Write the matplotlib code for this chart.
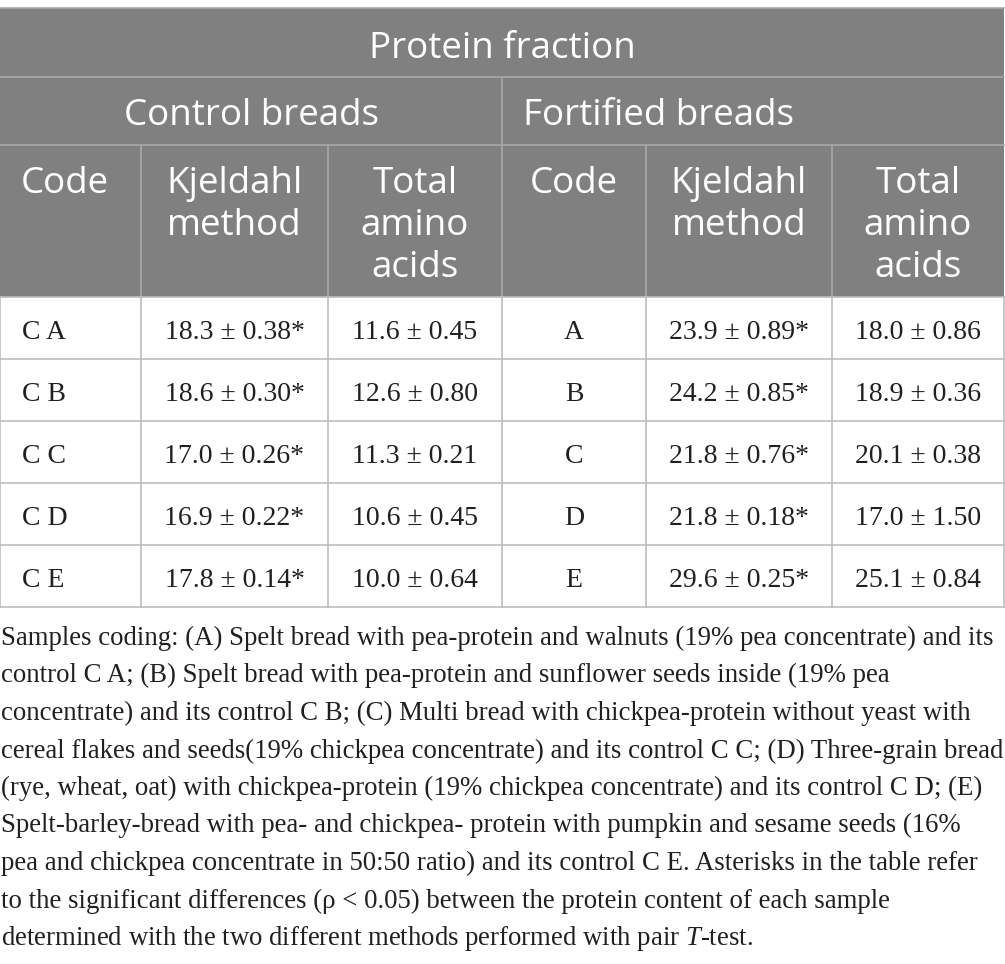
import matplotlib.pyplot as plt

plt.rcParams['mathtext.fontset'] = 'custom'
plt.rcParams['mathtext.rm'] = 'Liberation Serif'
plt.rcParams['mathtext.it'] = 'Liberation Serif:italic'

# data
ctrl_codes = ["C A", "C B", "C C", "C D", "C E"]
ctrl_kj_mean = [18.3, 18.6, 17.0, 16.9, 17.8]
ctrl_kj_sd = [0.38, 0.30, 0.26, 0.22, 0.14]
ctrl_aa_mean = [11.6, 12.6, 11.3, 10.6, 10.0]
ctrl_aa_sd = [0.45, 0.80, 0.21, 0.45, 0.64]

fort_codes = ["A", "B", "C", "D", "E"]
fort_kj_mean = [23.9, 24.2, 21.8, 21.8, 29.6]
fort_kj_sd = [0.89, 0.85, 0.76, 0.18, 0.25]
fort_aa_mean = [18.0, 18.9, 20.1, 17.0, 25.1]
fort_aa_sd = [0.86, 0.36, 0.38, 1.50, 0.84]

col_headers = ["Code", "Kjeldahl\nmethod", "Total\namino\nacids"]

footnote = [
    "Samples coding: (A) Spelt bread with pea-protein and walnuts (19% pea concentrate) and its",
    "control C A; (B) Spelt bread with pea-protein and sunflower seeds inside (19% pea",
    "concentrate) and its control C B; (C) Multi bread with chickpea-protein without yeast with",
    "cereal flakes and seeds(19% chickpea concentrate) and its control C C; (D) Three-grain bread",
    "(rye, wheat, oat) with chickpea-protein (19% chickpea concentrate) and its control C D; (E)",
    "Spelt-barley-bread with pea- and chickpea- protein with pumpkin and sesame seeds (16%",
    "pea and chickpea concentrate in 50:50 ratio) and its control C E. Asterisks in the table refer",
    "to the significant differences (\u03c1 < 0.05) between the protein content of each sample",
    "determined with the two different methods performed with pair $T$-test.",
]

W, H = 1005, 964
fig = plt.figure(figsize=(W / 100, H / 100), dpi=100)
ax = fig.add_axes([0, 0, 1, 1])
ax.set_xlim(0, W)
ax.set_ylim(H, 0)
ax.axis('off')

xs = [0, 141, 328, 502, 646, 832, 1004]
ys = [8, 77, 145, 297, 359, 421, 483, 545, 607]

head_bg = '#808080'
head_line = '#a8a8a8'
body_line = '#bdbdbd'
hfont = 'Open Sans'
bfont = 'Liberation Serif'
ink = '#231f20'

ax.add_patch(plt.Rectangle((0, ys[0]), xs[-1], ys[3] - ys[0], color=head_bg, lw=0))

# header lines
ax.plot([0, xs[-1]], [ys[0], ys[0]], color=head_line, lw=1.2)
for y in ys[1:3]:
    ax.plot([0, xs[-1]], [y, y], color=head_line, lw=1.2)
ax.plot([xs[3], xs[3]], [ys[1], ys[3]], color=head_line, lw=1.2)
for x in [xs[1], xs[2], xs[4], xs[5]]:
    ax.plot([x, x], [ys[2], ys[3]], color=head_line, lw=1.2)

# body lines
for y in ys[3:]:
    ax.plot([0, xs[-1]], [y, y], color=body_line, lw=1.2)
for x in xs:
    ax.plot([x, x], [ys[3], ys[-1]], color=body_line, lw=1.2)

hs = 26.5
ax.text(xs[3], 58, "Protein fraction", color='white', fontsize=hs, family=hfont,
        ha='center', va='baseline')
ax.text((xs[0] + xs[3]) / 2, 125, "Control breads", color='white', fontsize=hs,
        family=hfont, ha='center', va='baseline')
ax.text(xs[3] + 21, 125, "Fortified breads", color='white', fontsize=hs,
        family=hfont, ha='left', va='baseline')

line_gap = 42
for grp in range(2):
    base = grp * 3
    for k, lab in enumerate(col_headers):
        for j, part in enumerate(lab.split("\n")):
            if base == 0 and k == 0:
                x, ha = 21, 'left'
            else:
                x, ha = (xs[base + k] + xs[base + k + 1]) / 2, 'center'
            ax.text(x, 193 + j * line_gap, part, color='white', fontsize=hs,
                    family=hfont, ha=ha, va='baseline')

bs = 20
for i in range(5):
    yb = ys[3 + i] + 42
    ax.text(22, yb, ctrl_codes[i], fontsize=bs, family=bfont, ha='left',
            va='baseline', color=ink)
    ax.text((xs[1] + xs[2]) / 2, yb, f"{ctrl_kj_mean[i]:.1f} \u00b1 {ctrl_kj_sd[i]:.2f}*",
            fontsize=bs, family=bfont, ha='center', va='baseline', color=ink)
    ax.text((xs[2] + xs[3]) / 2, yb, f"{ctrl_aa_mean[i]:.1f} \u00b1 {ctrl_aa_sd[i]:.2f}",
            fontsize=bs, family=bfont, ha='center', va='baseline', color=ink)
    ax.text((xs[3] + xs[4]) / 2, yb, fort_codes[i], fontsize=bs, family=bfont,
            ha='center', va='baseline', color=ink)
    ax.text((xs[4] + xs[5]) / 2, yb, f"{fort_kj_mean[i]:.1f} \u00b1 {fort_kj_sd[i]:.2f}*",
            fontsize=bs, family=bfont, ha='center', va='baseline', color=ink)
    ax.text((xs[5] + xs[6]) / 2, yb, f"{fort_aa_mean[i]:.1f} \u00b1 {fort_aa_sd[i]:.2f}",
            fontsize=bs, family=bfont, ha='center', va='baseline', color=ink)

fs = 19.3
for j, line in enumerate(footnote):
    ax.text(1, 645 + j * 37.5, line, fontsize=fs, family=bfont, ha='left',
            va='baseline', color=ink)

fig.savefig("out.png", dpi=100)
